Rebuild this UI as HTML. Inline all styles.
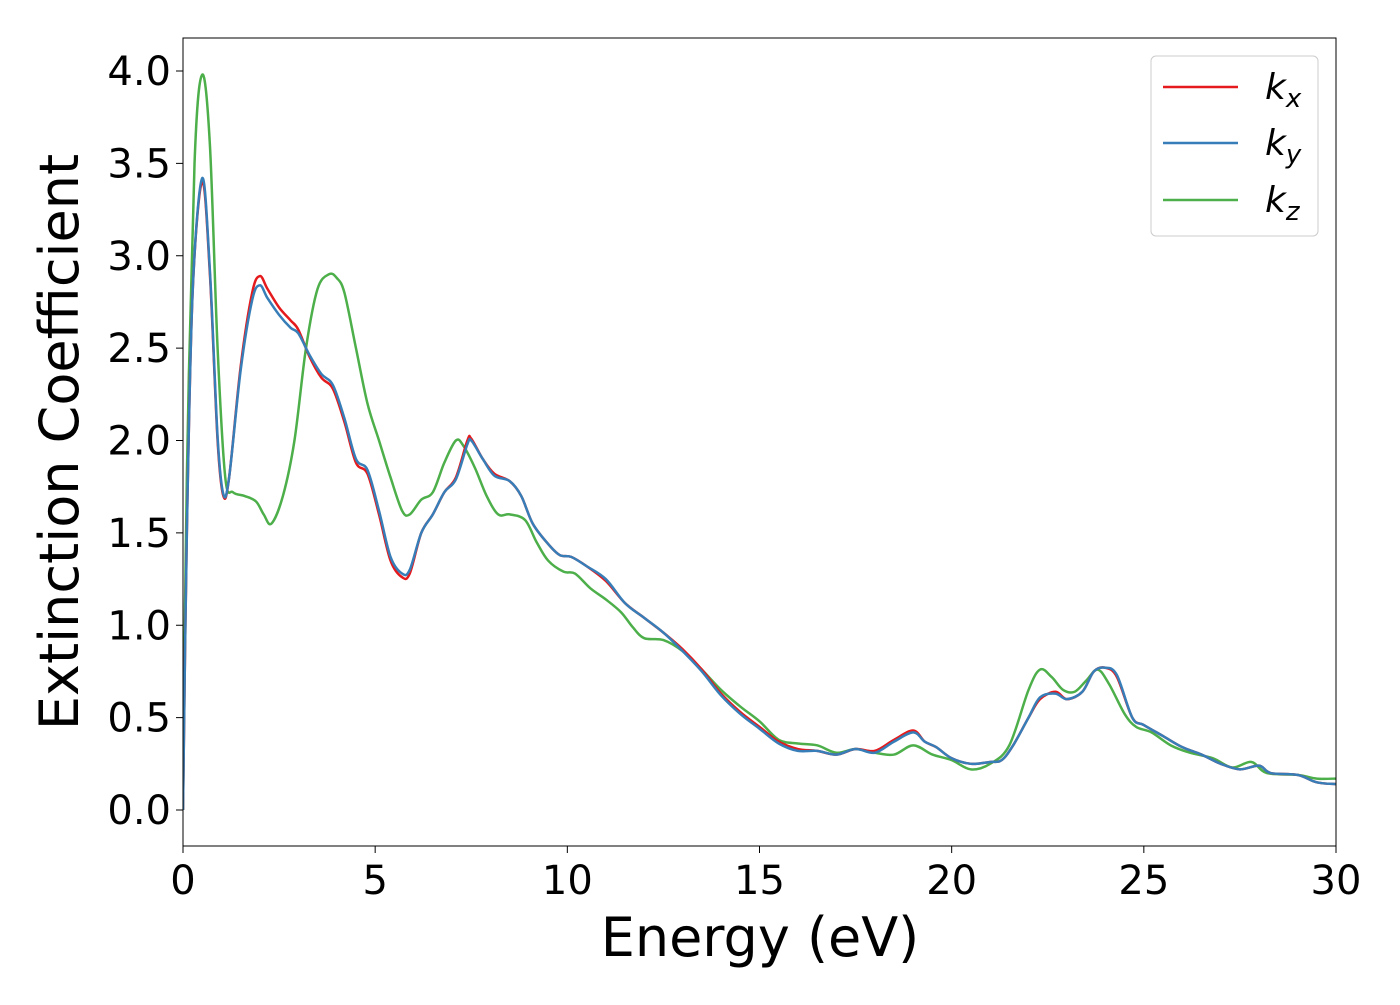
<!DOCTYPE html>
<html><head><meta charset="utf-8"><style>
body{margin:0;background:#fff}
svg{font-family:"DejaVu Sans","Liberation Sans",sans-serif}
</style></head><body>
<svg id="chart" width="1400" height="1000" xmlns="http://www.w3.org/2000/svg"></svg>
<script>
const xTicks=[0,5,10,15,20,25,30];
const yTicks=[0.0,0.5,1.0,1.5,2.0,2.5,3.0,3.5,4.0];
const kxE=[0,0.1,0.25,0.5,0.7,0.9,1.05,1.2,1.5,1.8,2.0,2.2,2.5,2.8,3.0,3.3,3.6,3.9,4.2,4.5,4.8,5.1,5.4,5.7,5.9,6.2,6.5,6.8,7.1,7.4,7.5,7.8,8.1,8.5,8.8,9.1,9.5,9.8,10.1,10.5,11.0,11.5,12.0,12.5,13.0,13.5,14.0,14.5,15.0,15.5,16.0,16.5,17.0,17.5,18.0,18.5,19.0,19.3,19.6,20.0,20.5,21.0,21.3,21.6,22.0,22.3,22.7,23.0,23.4,23.7,24.0,24.3,24.7,25.0,25.5,26.0,26.5,27.0,27.5,28.0,28.3,29.0,29.5,30];
const kxV=[0,1.5,2.8,3.4,2.9,2.0,1.7,1.8,2.4,2.8,2.89,2.82,2.72,2.65,2.6,2.45,2.34,2.28,2.1,1.88,1.82,1.6,1.35,1.26,1.28,1.5,1.6,1.72,1.8,2.0,2.01,1.9,1.82,1.78,1.7,1.55,1.44,1.38,1.37,1.32,1.24,1.12,1.04,0.96,0.87,0.76,0.63,0.53,0.45,0.37,0.33,0.32,0.3,0.33,0.32,0.38,0.43,0.37,0.34,0.28,0.25,0.26,0.27,0.35,0.5,0.6,0.64,0.6,0.64,0.75,0.77,0.72,0.5,0.46,0.4,0.34,0.3,0.25,0.22,0.24,0.2,0.19,0.15,0.14];
const kyV=[0,1.5,2.8,3.42,2.92,2.02,1.71,1.8,2.38,2.76,2.84,2.77,2.68,2.61,2.58,2.46,2.36,2.3,2.12,1.9,1.84,1.62,1.37,1.28,1.3,1.5,1.6,1.72,1.79,1.98,2.0,1.9,1.81,1.78,1.7,1.55,1.44,1.38,1.37,1.32,1.25,1.12,1.04,0.96,0.86,0.75,0.62,0.52,0.44,0.36,0.32,0.32,0.3,0.33,0.31,0.37,0.42,0.37,0.34,0.28,0.25,0.26,0.27,0.35,0.5,0.61,0.63,0.6,0.64,0.75,0.77,0.73,0.5,0.46,0.4,0.34,0.3,0.25,0.22,0.24,0.2,0.19,0.15,0.14];
const kzE=[0,0.1,0.3,0.5,0.7,0.9,1.1,1.3,1.6,1.9,2.1,2.3,2.6,2.9,3.2,3.5,3.8,4.0,4.2,4.5,4.8,5.1,5.4,5.7,5.9,6.2,6.5,6.8,7.1,7.3,7.6,7.9,8.2,8.5,8.9,9.2,9.5,9.9,10.2,10.6,11.0,11.4,11.7,12.0,12.5,13.0,13.5,14.0,14.5,15.0,15.5,16.0,16.5,17.0,17.5,18.0,18.5,19.0,19.5,20.0,20.5,21.0,21.5,22.0,22.3,22.6,22.9,23.2,23.5,23.8,24.1,24.5,24.8,25.2,25.7,26.2,26.8,27.3,27.8,28.2,29.0,29.5,30];
const kzV=[0,1.8,3.5,3.98,3.6,2.5,1.8,1.72,1.7,1.67,1.6,1.55,1.7,2.0,2.5,2.82,2.9,2.88,2.8,2.5,2.2,2.0,1.8,1.62,1.6,1.68,1.72,1.88,2.0,1.97,1.85,1.7,1.6,1.6,1.57,1.45,1.35,1.29,1.28,1.2,1.14,1.07,0.99,0.93,0.92,0.86,0.76,0.65,0.56,0.48,0.38,0.36,0.35,0.31,0.33,0.31,0.3,0.35,0.3,0.27,0.22,0.25,0.35,0.65,0.76,0.72,0.65,0.64,0.7,0.76,0.68,0.52,0.45,0.42,0.35,0.31,0.28,0.23,0.26,0.2,0.19,0.17,0.17];
const L=183,R=1336,T=38,B=846;
const xs=v=>L+(R-L)*v/30;
const ys=v=>810-184.75*v;
const svg=document.getElementById('chart');
const NS='http://www.w3.org/2000/svg';
function mk(tag,attrs,parent){const e=document.createElementNS(NS,tag);for(const k in attrs)e.setAttribute(k,attrs[k]);(parent||svg).appendChild(e);return e;}
function path(E,V){const p=E.map((e,i)=>[xs(e),ys(V[i])]);let d='M'+p[0][0]+','+p[0][1];
for(let i=0;i<p.length-1;i++){const p0=p[Math.max(0,i-1)],p1=p[i],p2=p[i+1],p3=p[Math.min(p.length-1,i+2)];
d+=' C'+(p1[0]+(p2[0]-p0[0])/6)+','+(p1[1]+(p2[1]-p0[1])/6)+' '+(p2[0]-(p3[0]-p1[0])/6)+','+(p2[1]-(p3[1]-p1[1])/6)+' '+p2[0]+','+p2[1];}return d;}
const clip=mk('clipPath',{id:'c'});mk('rect',{x:L,y:T,width:R-L,height:B-T},clip);
const series=[['kz-line',kzE,kzV,'#4daf4a'],['kx-line',kxE,kxV,'#e41a1c'],['ky-line',kxE,kyV,'#377eb8']];
series.forEach(s=>{const e=mk('path',{d:path(s[1],s[2]),fill:'none',stroke:s[3],'stroke-width':2.5,'clip-path':'url(#c)'});

});
const frame=mk('rect',{x:L,y:T,width:R-L,height:B-T,fill:'none',stroke:'#000','stroke-width':1});


xTicks.forEach(t=>{mk('line',{x1:xs(t),x2:xs(t),y1:B,y2:B+7,stroke:'#000'});
const e=mk('text',{x:xs(t),y:B+48,'text-anchor':'middle','font-size':40});e.textContent=t;

});
yTicks.forEach(t=>{mk('line',{x1:L-7,x2:L,y1:ys(t),y2:ys(t),stroke:'#000'});
const e=mk('text',{x:L-12,y:ys(t)+14,'text-anchor':'end','font-size':40});e.textContent=t.toFixed(1);

});
const xl=mk('text',{x:760,y:956,'text-anchor':'middle','font-size':54});xl.textContent='Energy (eV)';


const yl=mk('text',{x:0,y:0,'text-anchor':'middle','font-size':54,transform:'translate(78,442) rotate(-90)'});yl.textContent='Extinction Coefficient';


const lg=mk('g',{});


mk('rect',{x:1151,y:56,width:167,height:180,rx:5,fill:'#fff',stroke:'#ccc'},lg);
[['x','#e41a1c',87],['y','#377eb8',143],['z','#4daf4a',200]].forEach(l=>{
mk('line',{x1:1163,x2:1238,y1:l[2],y2:l[2],stroke:l[1],'stroke-width':2.5},lg);
const t=mk('text',{x:1265,y:l[2]+12,'font-size':36,'font-style':'italic'},lg);
t.innerHTML='k<tspan font-size="26" dy="8">'+l[0]+'</tspan>';

});
</script>
</body></html>
